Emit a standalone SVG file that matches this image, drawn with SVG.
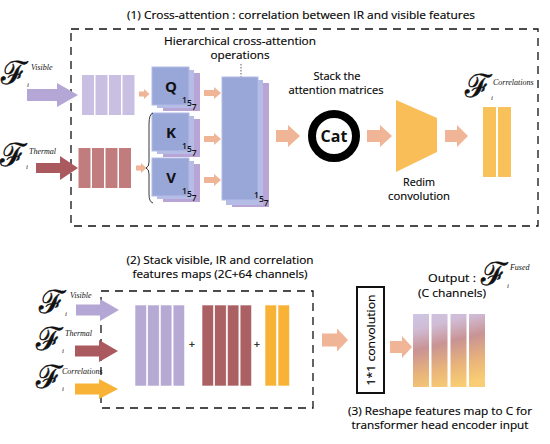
<svg xmlns="http://www.w3.org/2000/svg" width="550" height="444" viewBox="0 0 550 444">
<defs>
<style>
.lbl{font-family:"Open Sans","Liberation Sans",sans-serif;font-size:11px;fill:#000;stroke:#000;stroke-width:0.15}
.big{font-family:"Open Sans","Liberation Sans",sans-serif;font-weight:bold;fill:#111}
.num{font-family:"Open Sans","Liberation Sans",sans-serif;font-size:8.5px;font-weight:600;fill:#111}
.F{font-family:"DejaVu Serif","Liberation Serif",serif;font-size:32px;fill:#111;stroke:#111;stroke-width:0.5}
.sup{font-family:"Liberation Serif",serif;font-style:italic;font-size:8px;stroke:none}
.sub{font-family:"Liberation Serif",serif;font-style:italic;font-size:7px;stroke:none}
.dash{fill:none;stroke:#111;stroke-width:1.3;stroke-dasharray:8 6}
.peach{fill:#f0b497}
.lav{fill:#b4a7d5}
.brn{fill:#aa5a5e}
.org{fill:#f8b236}
.f1{fill:#99a6d8;stroke:#b3bce6;stroke-width:1}
.f2{fill:#b5bde6}
.f3{fill:#b8a5d5}
.vb{fill:#c9bfe2}
.tb{fill:#c17d7e}
</style>
<linearGradient id="fused" gradientUnits="userSpaceOnUse" x1="420" y1="312" x2="440" y2="390">
<stop offset="0" stop-color="#cdc6e4"/>
<stop offset="0.2" stop-color="#d0bcd6"/>
<stop offset="0.45" stop-color="#c99394"/>
<stop offset="0.75" stop-color="#e9b47a"/>
<stop offset="1" stop-color="#f8cd74"/>
</linearGradient>
</defs>
<rect width="550" height="444" fill="#fff"/>

<g id="title1"><text class="lbl" x="301" y="19" font-size="12" text-anchor="middle" textLength="348" lengthAdjust="spacingAndGlyphs">(1) Cross-attention : correlation between IR and visible features</text></g>
<g id="box1"><rect class="dash" x="71" y="29" width="467" height="197"/></g>

<g id="visible-input1"><text class="F" x="1" y="84">ℱ<tspan class="sub" dy="3">i</tspan><tspan class="sup" dx="2" dy="-17">Visible</tspan></text></g>
<g id="thermal-input1"><text class="F" x="0" y="166">ℱ<tspan class="sub" dy="3">i</tspan><tspan class="sup" dx="1" dy="-15">Thermal</tspan></text></g>

<g id="visible-features1">
<rect class="vb" x="82" y="75" width="12" height="40"/><rect class="vb" x="95.5" y="75" width="12" height="40"/><rect class="vb" x="109" y="75" width="12" height="40"/><rect class="vb" x="122.5" y="75" width="12" height="40"/>
</g>
<g id="thermal-features1">
<rect class="tb" x="78.5" y="148" width="12" height="40"/><rect class="tb" x="92" y="148" width="12" height="40"/><rect class="tb" x="105.5" y="148" width="12" height="40"/><rect class="tb" x="119" y="148" width="12" height="40"/>
</g>

<g id="hierarchical-label">
<text class="lbl" x="240" y="45" text-anchor="middle" textLength="152" lengthAdjust="spacingAndGlyphs">Hierarchical cross-attention</text>
<text class="lbl" x="240" y="59" text-anchor="middle" textLength="59" lengthAdjust="spacingAndGlyphs">operations</text>
<line x1="241" y1="64" x2="241" y2="77" stroke="#333" stroke-width="0.8" stroke-dasharray="1.5 1.5"/>
</g>

<g id="q-stack">
<rect class="f3" x="163" y="73" width="37" height="38"/><rect class="f2" x="157" y="70" width="37" height="38"/><rect class="f1" x="152" y="67" width="37" height="38"/>
<text class="big" x="171" y="92" font-size="15" text-anchor="middle">Q</text>
<text class="num" x="182" y="103">1<tspan dy="3">5</tspan><tspan dy="4">7</tspan></text>
</g>
<g id="k-stack">
<rect class="f3" x="163" y="119" width="37" height="38"/><rect class="f2" x="157" y="116" width="37" height="38"/><rect class="f1" x="152" y="113" width="37" height="38"/>
<text class="big" x="171" y="138" font-size="15" text-anchor="middle">K</text>
<text class="num" x="182" y="149">1<tspan dy="3">5</tspan><tspan dy="4">7</tspan></text>
</g>
<g id="v-stack">
<rect class="f3" x="163" y="164" width="37" height="38"/><rect class="f2" x="157" y="161" width="37" height="38"/><rect class="f1" x="152" y="158" width="37" height="38"/>
<text class="big" x="171" y="183" font-size="15" text-anchor="middle">V</text>
<text class="num" x="182" y="194">1<tspan dy="3">5</tspan><tspan dy="4">7</tspan></text>
</g>

<g id="attention-stack">
<rect class="f3" x="232" y="83" width="37" height="124"/><rect class="f2" x="226" y="80" width="37" height="125"/><rect class="f1" x="222" y="77" width="36" height="123"/>
<text class="num" x="254" y="198">1<tspan dy="4">5</tspan><tspan dy="4">7</tspan></text>
</g>

<g id="cat">
<text class="lbl" x="337" y="80" text-anchor="middle" textLength="47" lengthAdjust="spacingAndGlyphs">Stack the</text>
<text class="lbl" x="336" y="94" text-anchor="middle" textLength="95" lengthAdjust="spacingAndGlyphs">attention matrices</text>
<circle cx="334" cy="136" r="22" fill="#fff" stroke="#000" stroke-width="8"/>
<text class="big" x="334" y="142" font-size="16" font-weight="600" text-anchor="middle">Cat</text>
</g>

<g id="redim">
<polygon points="396,100 437,118 437,152 396,172" fill="#f9be57"/>
<text class="lbl" x="419" y="186" text-anchor="middle" textLength="32" lengthAdjust="spacingAndGlyphs">Redim</text>
<text class="lbl" x="419" y="200" text-anchor="middle" textLength="62" lengthAdjust="spacingAndGlyphs">convolution</text>
</g>

<g id="correlations1">
<text class="F" x="465" y="97">ℱ<tspan class="sub" dy="3">i</tspan><tspan class="sup" dx="0" dy="-15">Correlations</tspan></text>
<rect x="483" y="107" width="13" height="70" fill="#f9c15a"/><rect x="498" y="107" width="13" height="70" fill="#f9c15a"/>
</g>

<g id="title2">
<text class="lbl" x="220" y="264" text-anchor="middle" textLength="187" lengthAdjust="spacingAndGlyphs">(2) Stack visible, IR and correlation</text>
<text class="lbl" x="220" y="278" text-anchor="middle" textLength="175" lengthAdjust="spacingAndGlyphs">features maps (2C+64 channels)</text>
</g>
<g id="box2"><rect class="dash" x="101" y="291" width="212" height="117"/></g>

<g id="visible-input2"><text class="F" x="39" y="313">ℱ<tspan class="sub" dy="3">i</tspan><tspan class="sup" dx="3" dy="-18">Visible</tspan></text></g>
<g id="thermal-input2"><text class="F" x="36" y="350">ℱ<tspan class="sub" dy="3">i</tspan><tspan class="sup" dx="1" dy="-17">Thermal</tspan></text></g>
<g id="correlation-input2"><text class="F" x="36" y="388">ℱ<tspan class="sub" dy="3">i</tspan><tspan class="sup" dx="-2" dy="-17">Correlations</tspan></text></g>

<g id="stacked-features">
<g fill="#b6a9d3" stroke="#fff" stroke-width="0.6">
<rect x="135" y="305" width="11.5" height="81"/><rect x="147.7" y="305" width="11.5" height="81"/><rect x="160.4" y="305" width="11.5" height="81"/><rect x="173.1" y="305" width="11.5" height="81"/>
</g>
<text class="lbl" x="192" y="348" text-anchor="middle" font-size="10">+</text>
<g fill="#ab6164" stroke="#fff" stroke-width="0.6">
<rect x="202" y="305" width="11.5" height="81"/><rect x="214.7" y="305" width="11.5" height="81"/><rect x="227.4" y="305" width="11.5" height="81"/><rect x="240.1" y="305" width="11.5" height="81"/>
</g>
<text class="lbl" x="257" y="348" text-anchor="middle" font-size="10">+</text>
<g fill="#f8b236" stroke="#fff" stroke-width="0.6">
<rect x="265" y="305" width="11.5" height="81"/><rect x="278" y="305" width="11.5" height="81"/>
</g>
</g>

<g id="conv1x1">
<rect x="357" y="287" width="27" height="106" fill="#fff" stroke="#111" stroke-width="2"/>
<text class="lbl" font-size="12" transform="translate(375,340) rotate(-90)" text-anchor="middle" textLength="91" lengthAdjust="spacingAndGlyphs">1*1 convolution</text>
</g>

<g id="output">
<text class="lbl" x="452" y="282" text-anchor="middle" textLength="48" lengthAdjust="spacingAndGlyphs">Output :</text>
<text class="F" x="481" y="285">ℱ<tspan class="sub" dy="3">i</tspan><tspan class="sup" dx="1" dy="-18">Fused</tspan></text>
<text class="lbl" x="452" y="297" text-anchor="middle" textLength="68" lengthAdjust="spacingAndGlyphs">(C channels)</text>
<g fill="url(#fused)">
<rect x="413" y="314" width="16" height="73"/><rect x="431.5" y="314" width="16" height="73"/><rect x="450.5" y="314" width="16" height="73"/><rect x="469" y="314" width="16" height="73"/>
</g>
</g>

<g id="caption3">
<text class="lbl" x="440" y="415" text-anchor="middle" textLength="184" lengthAdjust="spacingAndGlyphs">(3) Reshape features map to C for</text>
<text class="lbl" x="440" y="429" text-anchor="middle" textLength="177" lengthAdjust="spacingAndGlyphs">transformer head encoder input</text>
</g>

<g id="connectors">
<polygon class="lav" points="27,89 57,89 57,83 78,95 57,107 57,101 27,101"/>
<polygon class="brn" points="36,163 60,163 60,156 78,168 60,180 60,173 36,173"/>
<polygon class="peach" points="139,91.5 144,91.5 144,89 149.5,94 144,99 144,96.5 139,96.5"/>
<polygon class="peach" points="136,165.5 141,165.5 141,163 146.5,168 141,173 141,170.5 136,170.5"/>
<path d="M153,113 Q149,114 149,124 L149,162 Q149,167 146,168 Q149,169 149,174 L149,194 Q149,202 153,203" fill="none" stroke="#222" stroke-width="0.9"/>
<polygon class="peach" points="204,90 214,90 214,87 221,93 214,99 214,96 204,96"/>
<polygon class="peach" points="204,136 214,136 214,133 221,139 214,145 214,142 204,142"/>
<polygon class="peach" points="204,177 214,177 214,174 221,180 214,186 214,183 204,183"/>
<polygon class="peach" points="276,130 288,130 288,125 300,136 288,147 288,142 276,142"/>
<polygon class="peach" points="367,130 380,130 380,125 392,136 380,147 380,142 367,142"/>
<polygon class="peach" points="445,130 457,130 457,125 468,136 457,147 457,142 445,142"/>
<polygon class="lav" points="76,304.5 100,304.5 100,299 119,310 100,321 100,315.5 76,315.5"/>
<polygon class="brn" points="75,345.5 99,345.5 99,340 118,351 99,362 99,356.5 75,356.5"/>
<polygon class="org" points="75,383.5 99,383.5 99,379 118,389 99,399 99,394.5 75,394.5"/>
<polygon class="peach" points="322,333.5 337,333.5 337,328.5 348,340 337,351.5 337,346.5 322,346.5"/>
<polygon class="peach" points="390,341 402,341 402,336 412,347 402,358 402,353 390,353"/>
</g>
</svg>
